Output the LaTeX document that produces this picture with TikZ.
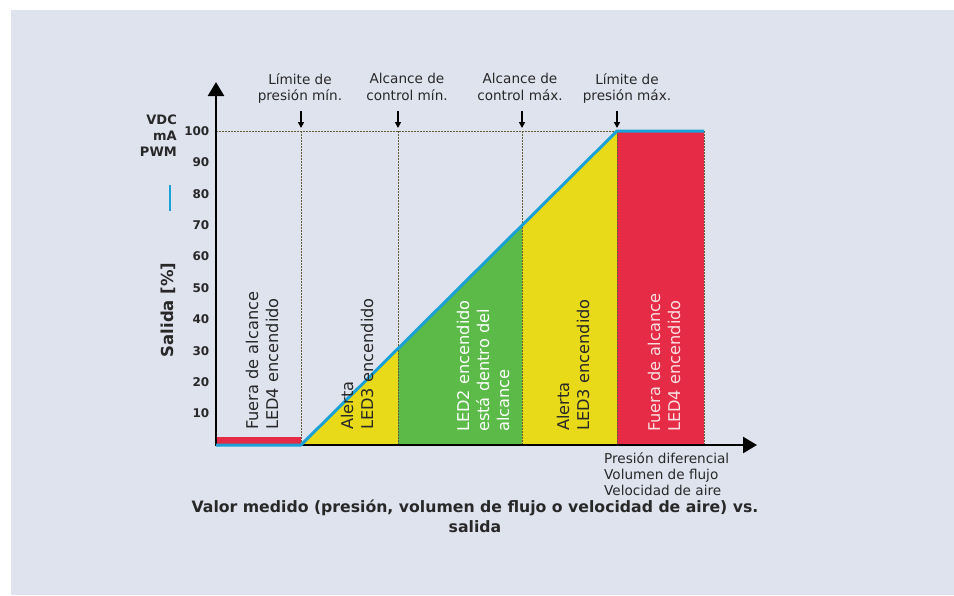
\documentclass[tikz,border=0pt]{standalone}
\usepackage{fontspec}
\setmainfont{DejaVu Sans}
\usetikzlibrary{arrows.meta}
\definecolor{panel}{RGB}{223,227,238}
\definecolor{cred}{RGB}{229,43,69}
\definecolor{cyel}{RGB}{232,218,24}
\definecolor{cgrn}{RGB}{91,186,72}
\definecolor{cblu}{RGB}{27,161,213}
\definecolor{dots}{RGB}{100,92,55}
\definecolor{txt}{RGB}{40,40,40}
\definecolor{pinktxt}{RGB}{250,222,226}
\begin{document}
\begin{tikzpicture}[x=1pt,y=-1pt,
 guide/.style={draw=dots, line width=1pt, dash pattern=on 1.5pt off 1.5pt},
 axisline/.style={line width=2.5pt, -{Triangle[length=14pt,width=16pt]}},
 marker/.style={line width=1.5pt, -{Triangle[length=6pt,width=6pt]}},
 toplabel/.style={font=\fontsize{13.6}{16.5}\selectfont, text=txt, align=center, inner sep=0pt, anchor=north},
 zonelabel/.style={font=\fontsize{16.2}{20}\selectfont, align=left, inner sep=0pt, anchor=west, rotate=90},
 ticklabel/.style={font=\bfseries\fontsize{12}{14}\selectfont, text=txt, anchor=east, inner sep=0pt},
]
\fill[white] (0,0) rectangle (954,595);
\fill[panel] (11,10) rectangle (954,595);
\useasboundingbox (0,0) rectangle (954,595);

% key points
\coordinate (O) at (216,445);
\coordinate (A) at (301,445);
\coordinate (B) at (398,348.6);
\coordinate (B0) at (398,445);
\coordinate (C) at (522,225.4);
\coordinate (C0) at (522,445);
\coordinate (D) at (617,131);
\coordinate (D0) at (617,445);
\coordinate (E) at (704,131);
\coordinate (E0) at (704,445);
\coordinate (H) at (216,131);

% zone fills
\fill[cred] (217,437) rectangle (A);
\fill[cyel] (A) -- (B) -- (B0) -- cycle;
\fill[cgrn] (B0) -- (B) -- (C) -- (C0) -- cycle;
\fill[cyel] (C0) -- (C) -- (D) -- (D0) -- cycle;
\fill[cred] (D0) -- (D) -- (E) -- (E0) -- cycle;

% guide lines
\draw[guide] (H) -- (D);
\draw[guide] (301,131) -- (A);
\draw[guide] (398,131) -- (B0);
\draw[guide] (522,131) -- (C0);
\draw[guide] (D) -- (D0);
\draw[guide] (E) -- (E0);

% markers
\foreach \x/\n in {301/a,398/b,522/c,617/d}{
  \coordinate (m\n1) at (\x,111);
  \coordinate (m\n2) at (\x,128);
  \draw[marker] (m\n1) -- (m\n2);
}

% axes
\coordinate (ytip) at (216,82);
\coordinate (xtip) at (757,445);
\coordinate (ybot) at (216,446.25);
\coordinate (xleft) at (214.75,445);
\draw[axisline] (ybot) -- (ytip);
\draw[axisline] (xleft) -- (xtip);

% output curve
\draw[cblu, line width=3pt, line join=round] (O) -- (A) -- (D) -- (E);

% ticks
\foreach \v in {10,20,...,100}{
  \node[ticklabel] (t\v) at (209.5,{445-3.14*\v}) {\v};
}
\node[font=\bfseries\fontsize{13}{16}\selectfont, text=txt, align=right, anchor=east, inner sep=0pt] (units) at (177,136) {VDC\\mA\\PWM};
\draw[cblu, line width=2.5pt] (170,185) -- (170,211);
\node[font=\bfseries\fontsize{16.5}{19}\selectfont, text=txt, rotate=90, inner sep=0pt] (ylab) at (168,310) {Salida [\%]};

% top labels
\node[toplabel] (l1) at (300,73) {Límite de\\presión mín.};
\node[toplabel] (l2) at (407,73) {Alcance de\\control mín.};
\node[toplabel] (l3) at (520,73) {Alcance de\\control máx.};
\node[toplabel] (l4) at (627,73) {Límite de\\presión máx.};

% zone labels
\node[zonelabel, text=txt] (z1) at (262,430) {Fuera de alcance\\LED4 encendido};
\node[zonelabel, text=txt] (z2) at (357,430) {Alerta\\LED3 encendido};
\node[zonelabel, text=white] (z3) at (483,432) {LED2 encendido\\está dentro del\\alcance};
\node[zonelabel, text=txt] (z4) at (573,431) {Alerta\\LED3 encendido};
\node[zonelabel, text=pinktxt] (z5) at (664,432) {Fuera de alcance\\LED4 encendido};

% x labels
\node[font=\fontsize{13.6}{16}\selectfont, text=txt, align=left, anchor=north west, inner sep=0pt] (xlab) at (604,452) {Presión diferencial\\Volumen de flujo\\Velocidad de aire};
\node[font=\bfseries\fontsize{15.7}{20}\selectfont, text=txt, align=center, anchor=north, inner sep=0pt] (title) at (475,500) {Valor medido (presión, volumen de flujo o velocidad de aire) vs.\\salida};
\end{tikzpicture}
\end{document}
